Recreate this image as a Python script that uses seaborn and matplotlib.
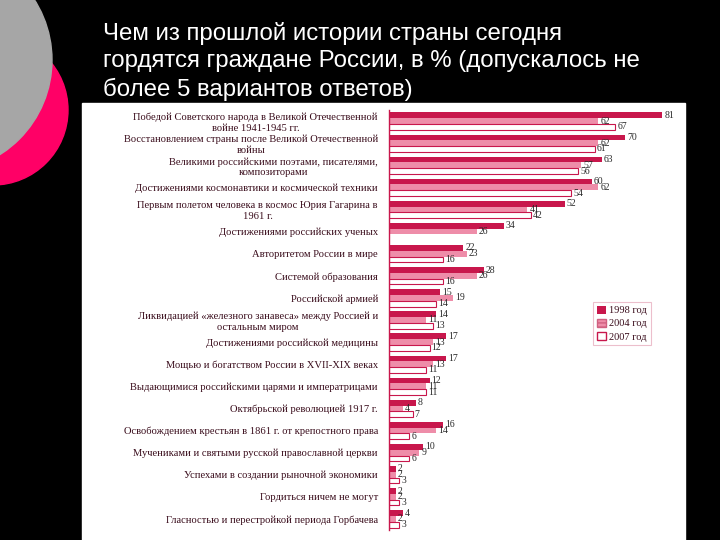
import numpy as np
import pandas as pd
import seaborn as sns
import matplotlib.pyplot as plt
from matplotlib.patches import Rectangle, Ellipse, Patch

# Values (percent of respondents)
categories = [
    "Победой Советского народа в Великой Отечественной\nвойне 1941-1945 гг.",
    "Восстановлением страны после Великой Отечественной\nвойны",
    "Великими российскими поэтами, писателями,\nкомпозиторами",
    "Достижениями космонавтики и космической техники",
    "Первым полетом человека в космос Юрия Гагарина в\n1961 г.",
    "Достижениями российских ученых",
    "Авторитетом России в мире",
    "Системой образования",
    "Российской армией",
    "Ликвидацией «железного занавеса» между Россией и\nостальным миром",
    "Достижениями российской медицины",
    "Мощью и богатством России в XVII-XIX веках",
    "Выдающимися российскими царями и императрицами",
    "Октябрьской революцией 1917 г.",
    "Освобождением крестьян в 1861 г. от крепостного права",
    "Мучениками и святыми русской православной церкви",
    "Успехами в создании рыночной экономики",
    "Гордиться ничем не могут",
    "Гласностью и перестройкой периода Горбачева",
]
years = ["1998 год", "2004 год", "2007 год"]
v1998 = [81, 70, 63, 60, 52, 34, 22, 28, 15, 14, 17, 17, 12, 8, 16, 10, 2, 2, 4]
v2004 = [62, 62, 57, 62, 41, 26, 23, 26, 19, 11, 13, 13, 11, 4, 14, 9, 2, 2, 2]
v2007 = [67, 61, 56, 54, 42, np.nan, 16, 16, 14, 13, 12, 11, 11, 7, 6, 6, 3, 3, 3]

crimson = "#C8174C"
pink = "#EE8DA9"

df = pd.DataFrame({
    "cat": categories * 3,
    "year": [years[0]] * 19 + [years[1]] * 19 + [years[2]] * 19,
    "val": v1998 + v2004 + v2007,
})

sns.set_style("white")
plt.rcParams["font.family"] = ["Liberation Serif", "DejaVu Serif"]

fig = plt.figure(figsize=(7.2, 5.4), dpi=100, facecolor="black")

# slide decoration
fig.patches.append(Ellipse((-7 / 720, 1 - 110 / 540), 2 * 75 / 720, 2 * 75 / 540,
                           transform=fig.transFigure, color="#FF0066", zorder=0))
fig.patches.append(Ellipse((-60 / 720, 1 - 60 / 540), 2 * 112 / 720, 2 * 112 / 540,
                           transform=fig.transFigure, color="#A6A6A6", zorder=1))
fig.patches.append(Rectangle((82 / 720, 0), (685 - 82) / 720, (540 - 103) / 540,
                             transform=fig.transFigure, color="white", zorder=2))

fig.text(103 / 720, 1 - 22 / 540,
         "Чем из прошлой истории страны сегодня\n"
         "гордятся граждане России, в % (допускалось не\n"
         "более 5 вариантов ответов)",
         color="white", fontsize=17.3, family=["Liberation Sans", "DejaVu Sans"],
         va="top", ha="left", linespacing=1.3)

ax = fig.add_axes([389 / 720, 1 - 530 / 540, (676 - 389) / 720, (530 - 110) / 540])
ax.set_zorder(3)
ax.patch.set_alpha(0)

sns.barplot(data=df, y="cat", x="val", hue="year", orient="h", ax=ax,
            palette=[crimson, pink, "white"], width=0.78, saturation=1,
            legend=False)

for c, yr in zip(ax.containers, years):
    for bar in c:
        if yr == "2007 год":
            bar.set_edgecolor(crimson)
            bar.set_linewidth(0.8)
        else:
            bar.set_edgecolor("none")
    ax.bar_label(c, fmt="%g", padding=1.5, fontsize=7, color="#2a2a2a")

ax.set_xlim(0, 85)
ax.set_xlabel("")
ax.set_ylabel("")
ax.set_xticks([])
for s in ["top", "right", "bottom"]:
    ax.spines[s].set_visible(False)
ax.spines["left"].set_color(crimson)
ax.spines["left"].set_linewidth(1.0)
ax.tick_params(axis="y", which="major", length=0, pad=8, labelsize=7.6,
               labelcolor="#3a0d1c")
ax.set_yticks(np.arange(len(categories) + 1) - 0.5, minor=True)
ax.tick_params(axis="y", which="minor", length=4, color=crimson, width=1)
for lbl in ax.get_yticklabels():
    lbl.set_ha("right")
    lbl.set_multialignment("center")

handles = [
    Patch(facecolor=crimson, edgecolor="none", label=years[0]),
    Patch(facecolor=pink, edgecolor="#D06080", hatch="----", label=years[1]),
    Patch(facecolor="white", edgecolor=crimson, label=years[2]),
]
leg = fig.legend(handles=handles, loc="upper left",
                 bbox_to_anchor=(593 / 720, 1 - 302 / 540),
                 bbox_transform=fig.transFigure, fontsize=7.5, frameon=True,
                 fancybox=False, handlelength=0.9, handleheight=0.8,
                 handletextpad=0.3, borderpad=0.35, labelspacing=0.35,
                 borderaxespad=0)
leg.get_frame().set_edgecolor("#E8B0C0")
leg.get_frame().set_linewidth(0.8)
leg.set_zorder(5)
for t in leg.get_texts():
    t.set_color("#3a0d1c")

fig.savefig("out.png", dpi=100, facecolor=fig.get_facecolor())
